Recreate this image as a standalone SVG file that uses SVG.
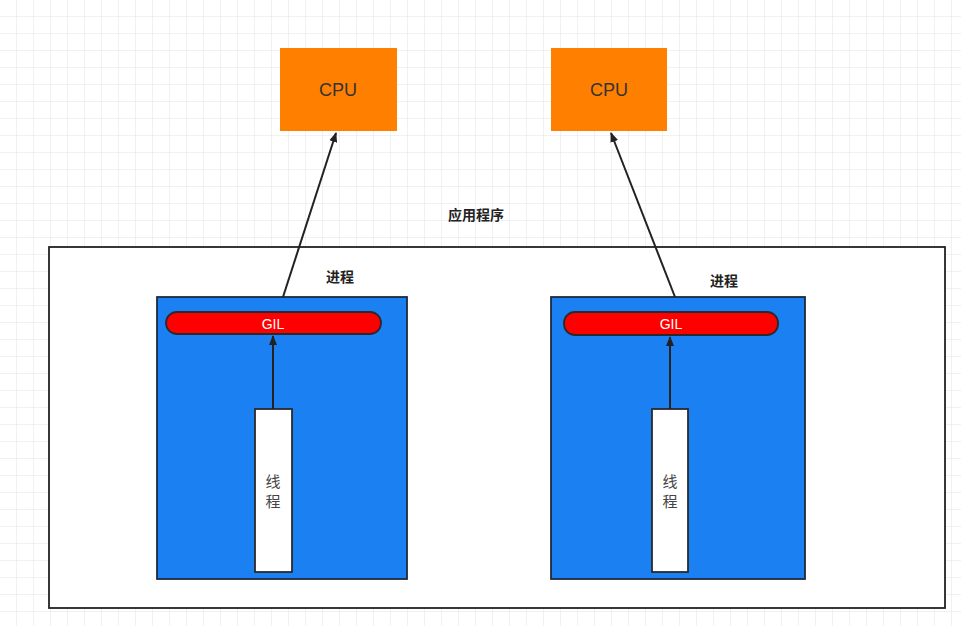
<svg xmlns="http://www.w3.org/2000/svg" width="961" height="626" viewBox="0 0 961 626">
<defs>
<pattern id="grid" width="17" height="17" patternUnits="userSpaceOnUse">
<path d="M17 0V17M0 17H17" fill="none" stroke="#e2e2e2" stroke-width="1"/>
</pattern>
<marker id="ah" viewBox="0 0 10 10" refX="9" refY="5" markerWidth="10" markerHeight="10" orient="auto" markerUnits="userSpaceOnUse">
<path d="M0 1L10 5L0 9Z" fill="#222"/>
</marker>
<style>
.cpu{fill:#ff8000;stroke:none}
.proc{fill:#1b80f2;stroke:#1f2a3a;stroke-width:1.8}
.gil{fill:#ff0000;stroke:#2a2a2a;stroke-width:1.8}
.thr{fill:#ffffff;stroke:#2a2a2a;stroke-width:1.8}
.t{font-family:"Liberation Sans","Noto Sans CJK SC",sans-serif;text-anchor:middle;dominant-baseline:central}
.lbl{font-size:14px;fill:#222;font-weight:bold}
.tl{font-size:15px;fill:#444}
.conn{stroke:#222;stroke-width:2;fill:none;marker-end:url(#ah)}
</style>
</defs>
<rect width="961" height="626" fill="#ffffff"/>
<rect width="961" height="626" fill="url(#grid)"/>
<g id="app">
<rect x="49" y="247" width="896" height="361" fill="#ffffff" stroke="#222" stroke-width="1.8"/>
<text class="t lbl" x="476" y="215">应用程序</text>
</g>
<g id="cpu1">
<rect class="cpu" x="280" y="48" width="117" height="83"/>
<text class="t" x="338" y="90" font-size="18" fill="#333">CPU</text>
</g>
<g id="cpu2">
<rect class="cpu" x="551" y="48" width="116" height="83"/>
<text class="t" x="609" y="90" font-size="18" fill="#333">CPU</text>
</g>
<g id="proc1">
<rect class="proc" x="157" y="297" width="250" height="282"/>
<text class="t lbl" x="340" y="277">进程</text>
</g>
<g id="proc2">
<rect class="proc" x="551" y="297" width="254" height="282"/>
<text class="t lbl" x="724" y="281">进程</text>
</g>
<g id="gil1">
<rect class="gil" x="166" y="312" width="215" height="22" rx="11"/>
<text class="t" x="273" y="324" font-size="14" fill="#fff">GIL</text>
</g>
<g id="gil2">
<rect class="gil" x="564" y="312" width="214" height="23" rx="11"/>
<text class="t" x="671" y="324" font-size="14" fill="#fff">GIL</text>
</g>
<g id="thread1">
<rect class="thr" x="255" y="409" width="37" height="163"/>
<text class="t tl" x="273" y="481">线</text>
<text class="t tl" x="273" y="501">程</text>
</g>
<g id="thread2">
<rect class="thr" x="652" y="409" width="36" height="163"/>
<text class="t tl" x="670" y="481">线</text>
<text class="t tl" x="670" y="501">程</text>
</g>
<g id="connectors">
<line class="conn" x1="273" y1="409" x2="273" y2="336"/>
<line class="conn" x1="670" y1="409" x2="670" y2="337"/>
<line class="conn" x1="283" y1="297" x2="336" y2="133"/>
<line class="conn" x1="675" y1="297" x2="611" y2="133"/>
</g>
</svg>
